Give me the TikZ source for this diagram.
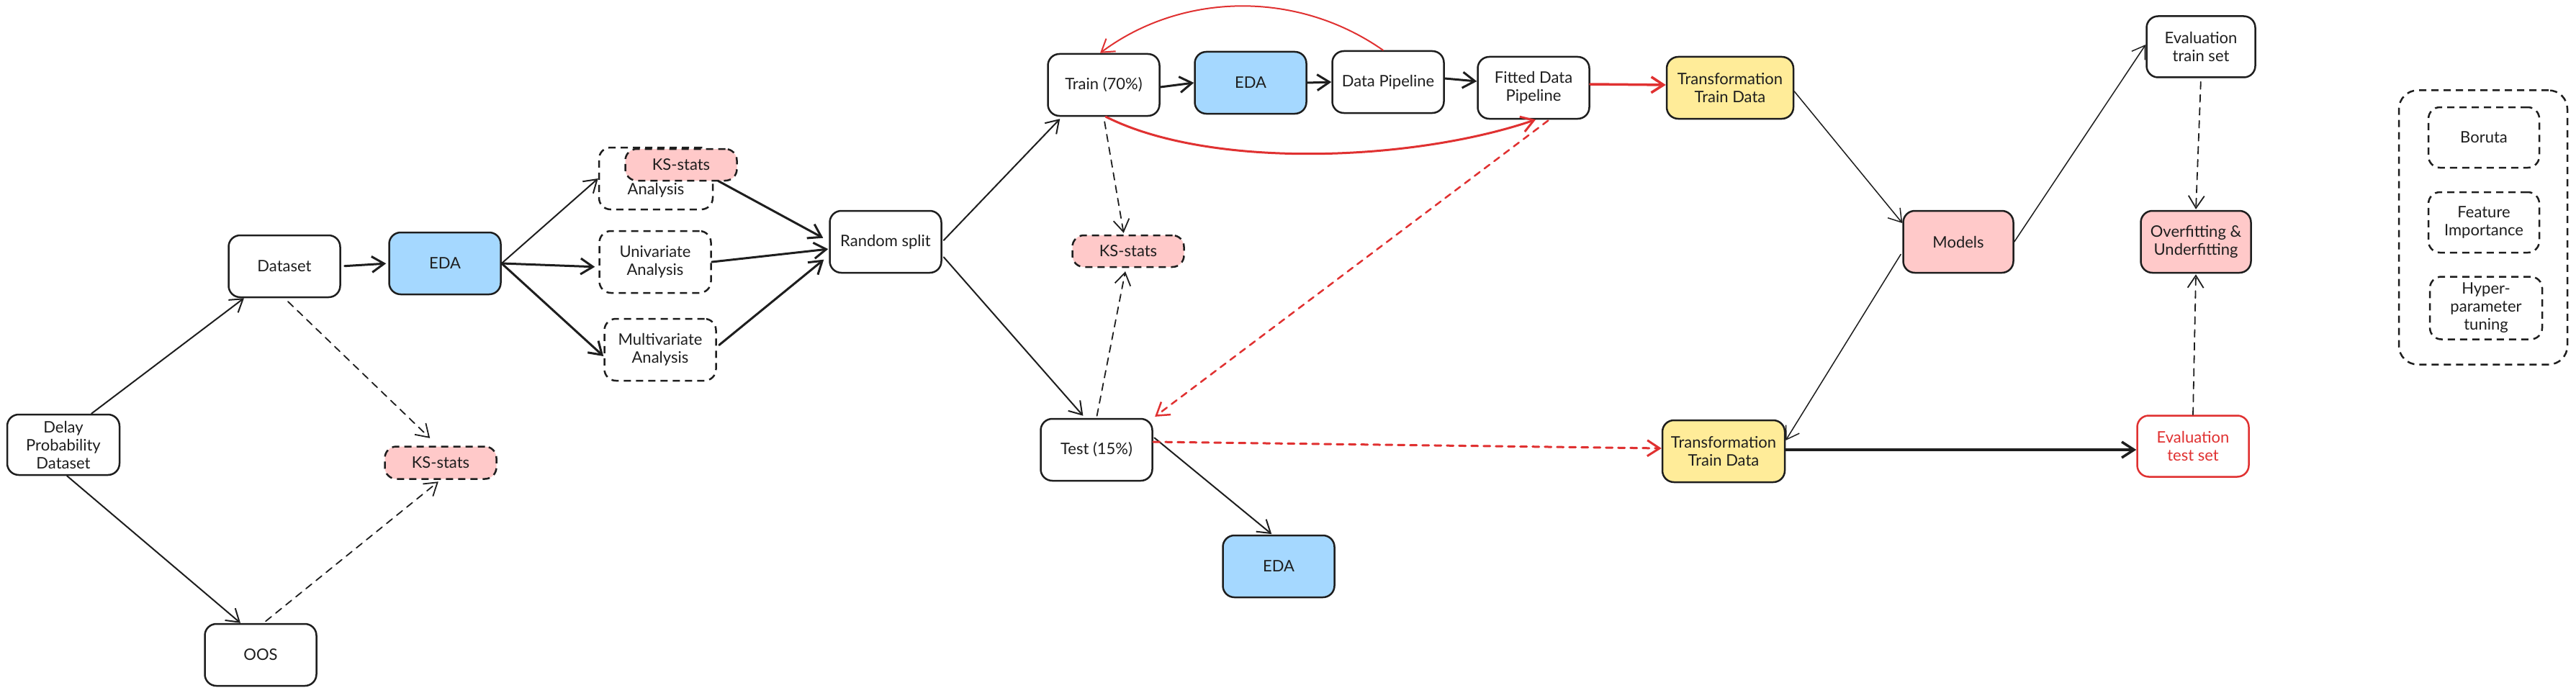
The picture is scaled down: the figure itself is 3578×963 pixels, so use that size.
\documentclass[tikz,border=0pt]{standalone}
\usepackage{fontspec}
\setmainfont{Lato}
\usetikzlibrary{arrows.meta}
\definecolor{eblue}{HTML}{A5D8FF}
\definecolor{epink}{HTML}{FFC9C9}
\definecolor{eyellow}{HTML}{FFEC99}
\definecolor{ered}{HTML}{E03131}
\definecolor{eink}{HTML}{1E1E1E}
\begin{document}
\begin{tikzpicture}[x=1pt,y=-1pt,
  box/.style={draw=eink, line width=2.5pt, rounded corners=16pt, align=center,
    font=\fontsize{22}{25}\selectfont, inner sep=0pt, text=eink,
    minimum width=155pt, minimum height=86pt},
  dbox/.style={box, dash pattern=on 10pt off 7pt},
  ksbox/.style={dbox, fill=epink, minimum height=45pt},
  txt/.style={font=\fontsize{22}{25}\selectfont, text=eink, inner sep=0pt},
  tip/.style={-{Straight Barb[length=17pt,width=22pt]}},
  arr/.style={draw=eink, line width=2pt, line cap=round, tip},
  thin/.style={arr, line width=1.5pt},
  thick/.style={arr, line width=3pt},
  darr/.style={arr, line width=1.8pt, dash pattern=on 10pt off 8pt},
  rarr/.style={draw=ered, line width=2.5pt, line cap=round, tip},
  rdarr/.style={rarr, dash pattern=on 9pt off 8pt},
]
\useasboundingbox (0,0) rectangle (3578,963);
\fill[white] (0,0) rectangle (3578,963);

% nodes
\node[box, minimum width=156pt, minimum height=84pt] (delay) at (88,618) {Delay\\Probability\\Dataset};
\node[box] (dataset) at (395,370) {Dataset};
\node[box, fill=eblue] (eda1) at (618,366) {EDA};
\node[ksbox] (ks1) at (612,643) {KS-stats};
\node[box] (oos) at (362,910) {OOS};

\node[dbox, minimum width=158pt] (bi) at (911,248) {};
\node[txt] (bitext) at (911,264) {Analysis};
\node[ksbox, minimum height=44pt] (ks2) at (946,229) {KS-stats};
\node[dbox] (uni) at (910,364) {Univariate\\Analysis};
\node[dbox] (multi) at (917,486) {Multivariate\\Analysis};
\node[box] (rs) at (1230,336) {Random split};

\node[box] (train) at (1533,118) {Train (70\%)};
\node[box, fill=eblue] (eda2) at (1737,115) {EDA};
\node[box] (dp) at (1928,114) {Data Pipeline};
\node[box] (fdp) at (2130,122) {Fitted Data\\Pipeline};
\node[ksbox, minimum height=44pt] (ks3) at (1567,349) {KS-stats};
\node[box] (test) at (1523,625) {Test (15\%)};
\node[box, fill=eblue] (eda3) at (1776,787) {EDA};

\node[box, fill=eyellow, minimum width=176pt] (tr1) at (2403,122) {Transformation\\Train Data};
\node[box, fill=eyellow, minimum width=170pt] (tr2) at (2394,627) {Transformation\\Train Data};
\node[box, fill=epink, minimum width=153pt] (models) at (2720,336) {Models};
\node[box, minimum width=151pt, minimum height=85pt] (evtr) at (3057,65) {Evaluation\\train set};
\node[box, fill=epink, minimum width=153pt] (over) at (3050,336) {Overfitting \&\\Underfitting};
\node[box, draw=ered, text=ered, minimum height=85pt] (evte) at (3046,620) {Evaluation\\test set};

\node[dbox, rounded corners=26pt, minimum width=234pt, minimum height=381pt] (outer) at (3449,316) {};
\node[dbox, minimum width=154pt, minimum height=84pt] (boruta) at (3450,191) {Boruta};
\node[dbox, minimum width=154pt, minimum height=84pt] (feat) at (3450,309) {Feature\\Importance};
\node[dbox, minimum width=156pt, minimum height=87pt] (hyper) at (3453,428) {Hyper-\\parameter\\tuning};

% connectors
\draw[arr] ([xshift=39pt]delay.north) -- ([xshift=-56pt]dataset.south);
\draw[arr] ([xshift=5pt]delay.south) -- ([xshift=-28pt]oos.north);
\draw[thick, shorten <=5pt, shorten >=3pt] (dataset.east) -- (eda1.west);
\draw[darr, shorten <=7pt, shorten >=15pt] (dataset.south) -- ([xshift=-4pt]ks1.north);
\draw[darr, shorten <=4pt, shorten >=4pt] ([xshift=4pt]oos.north) -- (ks1.south);

\draw[arr] (eda1.east) -- (bi.west);
\draw[thick, shorten >=5pt] (eda1.east) -- ([yshift=-7pt]uni.west);
\draw[thick] (eda1.east) -- ([yshift=-9pt]multi.west);
\draw[thick, shorten <=7pt, shorten >=9pt] (bi.east) -- ([yshift=1pt]rs.west);
\draw[thick, shorten >=1pt] (uni.east) -- ([yshift=-10pt]rs.west);
\draw[thick, shorten <=4pt, shorten >=9pt] ([yshift=4pt]multi.east) -- ([yshift=-19pt]rs.west);

\draw[arr, shorten <=3pt, shorten >=4pt] (rs.east) -- ([xshift=-58pt]train.south);
\draw[arr, shorten <=3pt, shorten >=4pt] ([yshift=-19pt]rs.east) -- ([xshift=-16pt]test.north);
\draw[darr, shorten <=7pt, shorten >=2pt] (train.south) -- ([xshift=-6pt]ks3.north);
\draw[darr, shorten <=3pt, shorten >=5pt] (test.north) -- ([xshift=-3pt]ks3.south);
\draw[arr, shorten <=2pt, shorten >=1pt] ([yshift=18pt]test.east) -- ([xshift=-9pt]eda3.north);
\draw[thick] ([yshift=-3pt]train.east) -- (eda2.west);
\draw[thick] (eda2.east) -- (dp.west);
\draw[thick] ([yshift=5pt]dp.east) -- ([yshift=9pt]fdp.west);

\draw[rarr, line width=2pt] ([xshift=-7pt]dp.north) .. controls (1800,-15) and (1640,-10) .. ([xshift=-5pt]train.north);
\draw[rarr, line width=3pt] ([xshift=3pt]train.south) .. controls (1680,235) and (1960,225) .. ([xshift=3pt]fdp.south);
\draw[rarr, line width=3.5pt] ([yshift=5pt]fdp.east) -- ([yshift=4pt]tr1.west);
\draw[rdarr, shorten <=2pt, shorten >=3pt] ([xshift=22pt]fdp.south) -- (test.north east);
\draw[rdarr, line width=3pt] ([yshift=11pt]test.east) -- ([yshift=4pt]tr2.west);

\draw[thin] ([yshift=-5pt]tr1.east) -- ([yshift=26pt]models.west);
\draw[thin] (models.east) -- ([yshift=3pt]evtr.west);
\draw[thin, shorten <=4pt] ([yshift=-14pt]models.west) -- ([yshift=15pt]tr2.east);
\draw[thick, line width=3.5pt] ([yshift=2pt]tr2.east) -- ([yshift=-5pt]evte.west);
\draw[darr, shorten <=5pt, shorten >=1pt] (evtr.south) -- (over.north);
\draw[darr, shorten >=1pt] (evte.north) -- (over.south);
\end{tikzpicture}
\end{document}
